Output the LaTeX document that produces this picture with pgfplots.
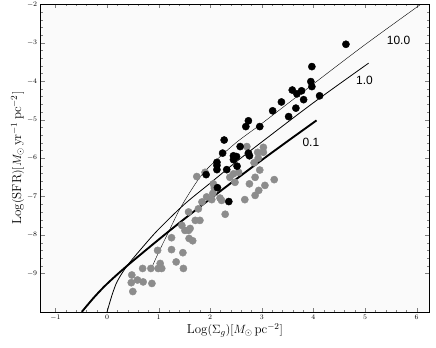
\documentclass[border=0pt]{standalone}
\usepackage{pgfplots}
\pgfplotsset{compat=1.18}
\usepackage{fontspec}
\newfontfamily\helv{Liberation Sans}
\definecolor{dotgray}{RGB}{140,140,140}

\begin{document}
\begin{tikzpicture}
\begin{axis}[
    name=ax,
    scale only axis,
    width=388bp, height=307.4bp,
    xmin=-1.285, xmax=6.24,
    ymin=-10, ymax=-2,
    xtick={-1,0,...,6},
    ytick={-9,-8,...,-2},
    minor tick num=4,
    tick align=inside,
    major tick length=4bp,
    minor tick length=2bp,
    ticklabel pos=left,
    xtick pos=both, ytick pos=both,
    tick label style={font=\fontsize{7}{8}\selectfont},
    axis line style={line width=0.8pt},
    axis background/.style={fill=black!2},
    xlabel={$\mathrm{Log}(\Sigma_g)[M_\odot\,\mathrm{pc}^{-2}]$},
    ylabel={$\mathrm{Log}(\mathrm{SFR})[M_\odot\,\mathrm{yr}^{-1}\,\mathrm{pc}^{-2}]$},
    label style={font=\fontsize{13}{15}\selectfont},
    xlabel style={yshift=4bp},
    ylabel style={yshift=-4bp},
    clip=true,
]
% model curves
\addplot[black, line width=1.9pt, smooth] coordinates {
    (-0.49,-10) (-0.25,-9.62) (0,-9.27) (0.39,-8.80) (1,-8.12) (1.5,-7.58)
    (2,-7.06) (2.5,-6.55) (3,-6.05) (3.5,-5.56) (4.06,-5.02)
};
\addplot[black, line width=0.8pt, smooth] coordinates {
    (0,-10) (0.1,-9.55) (0.2,-9.2) (0.39,-8.8) (0.7,-8.3) (1,-7.85)
    (1.5,-7.2) (2,-6.65) (2.5,-6.1) (3,-5.58) (4,-4.56) (5.07,-3.53)
};
\addplot[black, line width=0.4pt, smooth] coordinates {
    (0.85,-8.9) (1.0,-8.45) (1.2,-7.9) (1.4,-7.35) (1.6,-6.9) (1.8,-6.5)
    (2.0,-6.2) (2.5,-5.6) (3,-5.1) (4,-4.07) (5,-3.05) (6.08,-2.0)
};
% gray data
\addplot[only marks, mark=*, mark size=3.6bp, dotgray, mark options={draw=dotgray, fill=dotgray}] coordinates {
    (0.48,-9.04) (0.47,-9.24) (0.59,-9.17) (0.50,-9.47) (0.70,-9.22) (0.87,-9.26)
    (0.69,-8.87) (0.85,-8.87) (0.99,-8.87) (1.03,-8.74) (1.06,-8.87) (0.98,-8.40)
    (1.25,-8.07) (1.25,-8.38) (1.34,-8.70) (1.47,-8.46) (1.48,-8.87) (1.45,-7.75)
    (1.51,-7.88) (1.58,-7.88) (1.59,-8.09) (1.66,-8.15) (1.58,-7.40) (1.61,-7.83)
    (1.71,-7.62) (1.80,-7.62) (1.77,-7.32) (1.84,-7.14) (1.93,-7.01) (2.03,-7.08)
    (2.19,-7.04) (2.29,-7.46) (1.74,-6.48) (1.90,-6.37) (2.06,-6.67) (2.55,-6.37)
    (2.87,-6.50) (2.96,-6.31) (2.76,-6.67) (3.06,-6.71) (3.24,-6.56) (2.94,-6.84)
    (2.87,-6.97) (2.67,-7.08) (2.71,-5.70) (2.74,-5.89) (2.85,-6.12) (2.92,-5.85)
    (3.03,-5.72) (3.03,-5.85) (2.93,-6.00) (2.45,-6.41) (2.38,-6.50) (2.48,-6.63)
    (2.22,-7.10) (2.08,-6.78) (2.05,-6.92)
};
% black data
\addplot[only marks, mark=*, mark size=3.6bp, black] coordinates {
    (4.63,-3.04) (3.97,-3.62) (3.95,-4.01) (3.97,-4.14) (4.12,-4.38) (3.59,-4.23)
    (3.77,-4.25) (3.68,-4.33) (3.81,-4.48) (3.66,-4.70) (3.38,-4.54) (3.21,-4.77)
    (3.52,-4.92) (2.74,-5.03) (2.69,-5.18) (2.96,-5.18) (2.27,-5.53) (2.58,-5.70)
    (2.24,-5.87) (2.45,-5.94) (2.51,-5.96) (2.74,-5.87) (2.76,-5.94) (2.13,-6.11)
    (2.13,-6.19) (2.13,-6.30) (2.52,-6.21) (2.32,-6.30) (1.92,-6.43) (2.14,-6.77)
    (2.36,-7.13) (2.45,-6.04)
};
\node[font=\helv\fontsize{12}{12}\selectfont] at (axis cs:5.65,-2.94) {10.0};
\node[font=\helv\fontsize{12}{12}\selectfont] at (axis cs:4.99,-3.99) {1.0};
\node[font=\helv\fontsize{12}{12}\selectfont] at (axis cs:3.95,-5.59) {0.1};
\end{axis}
\pgfresetboundingbox
\path[use as bounding box] ([shift={(-40.7bp,-35.3bp)}]ax.south west) rectangle ([shift={(7bp,4.3bp)}]ax.north east);
\end{tikzpicture}
\end{document}
